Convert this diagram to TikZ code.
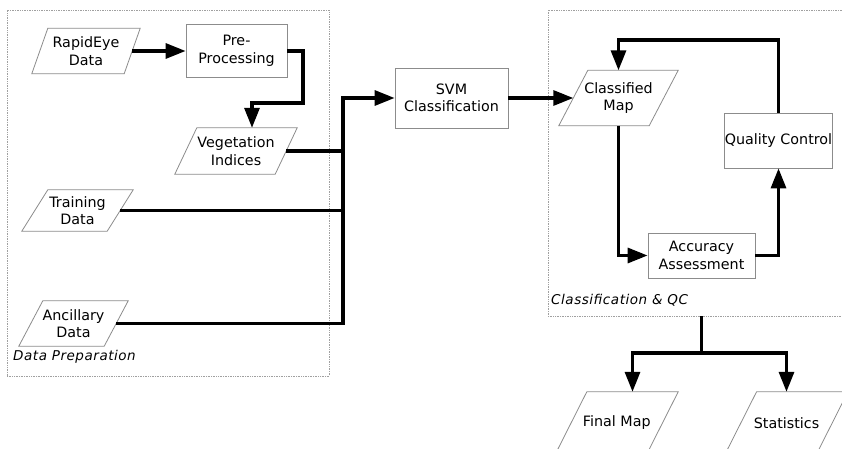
\documentclass[tikz,border=0pt]{standalone}
\usepackage{fontspec}
\setmainfont{DejaVu Sans}
\usetikzlibrary{arrows.meta}
\definecolor{boxgray}{HTML}{8C8C8C}
\definecolor{framegray}{HTML}{A0A0A0}
\newcommand\mainsz{\fontsize{14.3}{17.5}\selectfont}
\newcommand\labsz{\fontsize{13.5}{16}\selectfont\itshape\addfontfeatures{LetterSpace=4}}
\newcommand\paral[2]{\draw[draw=boxgray,line width=0.8pt] ([xshift=#2]#1.north west) -- (#1.north east) -- ([xshift=-#2]#1.south east) -- (#1.south west) -- cycle;}
\begin{document}
\begin{tikzpicture}[x=1pt,y=-1pt,
  box/.style={draw=boxgray, line width=0.8pt, fill=white, inner sep=0pt, align=center, font=\mainsz},
  para/.style={inner sep=0pt, align=center, font=\mainsz},
  grpframe/.style={draw=framegray, line width=0.7pt, densely dotted, inner sep=0pt},
  grplabel/.style={anchor=west, inner sep=0pt, font=\labsz},
  thk/.style={line width=3.2pt, line join=miter},
  arr/.style={thk, -{Triangle[length=20pt,width=15pt]}},
]
\useasboundingbox (0,0) rectangle (842,449);
\clip (0,0) rectangle (842,449);
\fill[white] (0,0) rectangle (842,449);

% group frames
\node[grpframe, minimum width=322, minimum height=366] (dp) at (168,193) {};
\node[grpframe, minimum width=300, minimum height=306] (cq) at (698,163) {};
\node[grplabel] (dplab) at (13,357) {Data Preparation};
\node[grplabel] (cqlab) at (551,300) {Classification \& QC};

% data nodes (parallelograms)
\node[para, minimum width=108, minimum height=45] (rap) at (86,51) {RapidEye\\Data};
\paral{rap}{16}
\node[para, minimum width=122, minimum height=46] (veg) at (236,151) {Vegetation\\Indices};
\paral{veg}{22}
\node[para, minimum width=111, minimum height=41] (train) at (77.5,210.5) {Training\\Data};
\paral{train}{26}
\node[para, minimum width=109, minimum height=45] (anc) at (73.5,323.5) {Ancillary\\Data};
\paral{anc}{24}
\node[para, minimum width=119, minimum height=55] (cmap) at (618.5,98) {Classified\\Map};
\paral{cmap}{29}
\node[para, minimum width=122.5, minimum height=62] (fmap) at (616.75,423) {Final Map};
\paral{fmap}{31.5}
\node[para, minimum width=122.5, minimum height=62] (stats) at (786.5,423) {Statistics};
\paral{stats}{31.5}

% process boxes
\node[box, minimum width=101, minimum height=53] (pre) at (236.5,51) {Pre-\\Processing};
\node[box, minimum width=113, minimum height=60] (svm) at (451.5,98) {SVM\\Classification};
\node[box, minimum width=107, minimum height=55] (qc) at (778.5,140.5) {Quality Control};
\node[box, minimum width=107, minimum height=45] (acc) at (701.5,255.5) {Accuracy\\Assessment};

% helper coordinates
\coordinate (k1) at (303,103);
\coordinate (bus) at (343,98);
\coordinate (fb) at (700,40);
\coordinate (split) at (701.5,353);

% connectors
\draw[arr] ([xshift=-8]rap.east) -- (pre.west);
\draw[arr] (pre.east) -| (k1) -| ([xshift=16]veg.north);
\draw[thk] ([xshift=-11]veg.east) -- (veg.east -| bus);
\draw[thk] ([xshift=-13]train.east) -- (train.east -| bus);
\draw[arr] ([xshift=-12]anc.east) -| (bus) -- (svm.west);
\draw[arr] (svm.east) -- ([xshift=14.5]cmap.west);
\draw[arr] (qc.north) |- (fb) -| (cmap.north);
\draw[arr] (cmap.south) |- (acc.west);
\draw[arr] (acc.east) -| (qc.south);
\draw[thk] (acc |- cq.south) -- (split);
\draw[arr] (split) -| ([xshift=15.75]fmap.north);
\draw[arr] (split) -| (stats.north);
\end{tikzpicture}
\end{document}
